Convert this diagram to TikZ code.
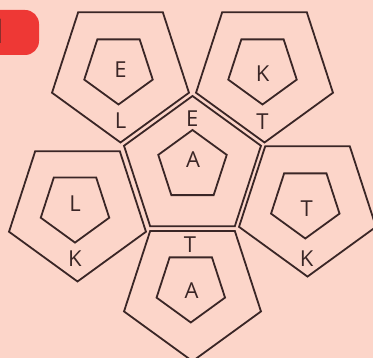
\documentclass[tikz,border=0pt]{standalone}
\usepackage{fontspec}
\setmainfont{Open Sans}
\usetikzlibrary{calc}
\definecolor{bgpink}{HTML}{FCD5C9}
\definecolor{badgered}{HTML}{EE3835}
\definecolor{ink}{HTML}{3A2626}

\begin{document}
\begin{tikzpicture}[x=1pt, y=-1pt, line width=1.8pt,
        rim/.style={draw=ink,line join=miter},
        lt/.style={font=\fontsize{22}{22}\selectfont,text=ink,inner sep=0pt}]
      \def\R{72}   % face (outer pentagon) radius
      \def\r{36}   % inner pentagon radius
      \newcommand{\pentagon}[4]{% centre x, centre y, radius, first corner angle
        \draw[rim] ($(#1,#2)+(#4:#3)$)
          \foreach \k in {1,...,4}{ -- ($(#1,#2)+({#4+72*\k}:#3)$)} -- cycle;
      }
      \useasboundingbox (0,0) rectangle (373,358);
      \clip (0,0) rectangle (373,358);
      \fill[bgpink] (0,0) rectangle (373,358);
      % task badge
      \fill[badgered, rounded corners=14pt] (-30,10) rectangle (39,55);
      \node[anchor=east, inner sep=0pt, text=ink,
            font=\fontsize{34}{34}\selectfont\bfseries] (num) at (7,31.5) {1};
      % central face, pointing up
      \pentagon{192.5}{168}{\R}{270}
      \pentagon{192.5}{166}{\r}{270}
      % the five faces round it, pointing down
      \pentagon{120.5}{70.5}{\R}{90}   \pentagon{118.5}{68.5}{\r}{90}
      \pentagon{264.5}{70.5}{\R}{90}   \pentagon{262.5}{68.5}{\r}{90}
      \pentagon{77.5}{209.5}{\R}{90}   \pentagon{75}{206.6}{\r}{90}
      \pentagon{307.5}{204.6}{\R}{90}  \pentagon{305.3}{202.5}{\r}{90}
      \pentagon{192.5}{289.2}{\R}{90}  \pentagon{190.8}{286.5}{\r}{90}
      % letters
      \node[lt] (cE)  at (192.3,119)   {E};
      \node[lt] (cA)  at (193,160)     {A};
      \node[lt] (tlE) at (120.5,69.5)  {E};
      \node[lt] (tlL) at (120.5,120.5) {L};
      \node[lt] (trK) at (262.7,73.5)  {K};
      \node[lt] (trT) at (262.5,121.5) {T};
      \node[lt] (lL)  at (75,204)      {L};
      \node[lt] (lK)  at (75,258.5)    {K};
      \node[lt] (rT)  at (306.7,209)   {T};
      \node[lt] (rK)  at (306.7,258.5) {K};
      \node[lt] (bT)  at (190,245)     {T};
      \node[lt] (bA)  at (191.7,290.5) {A};
    \end{tikzpicture}
\end{document}
